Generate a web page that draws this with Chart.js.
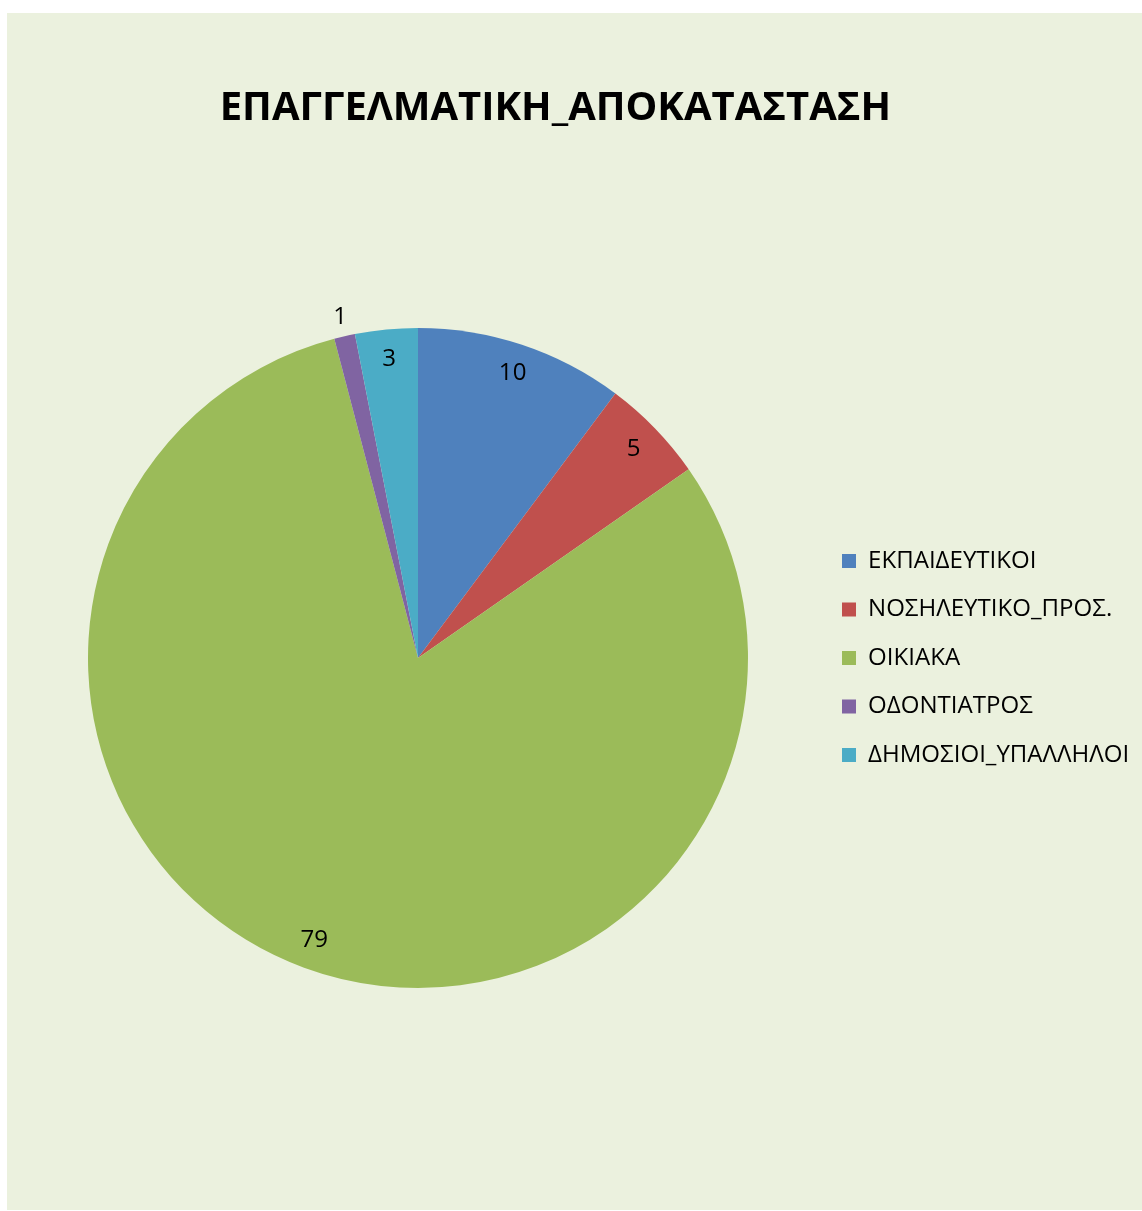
<!DOCTYPE html>
<html>
<head>
<meta charset="utf-8">
<script src="https://cdn.jsdelivr.net/npm/chart.js@4/dist/chart.umd.min.js"></script>
<style>
html,body{margin:0;padding:0;background:#ffffff;}
#panel{position:absolute;left:7px;top:13px;width:1135px;height:1197px;background:#EBF1DE;}
canvas{display:block;}
</style>
</head>
<body>
<div id="panel"><canvas id="c" width="1135" height="1197"></canvas></div>
<script>
// ---- data ----
const titleText = 'ΕΠΑΓΓΕΛΜΑΤΙΚΗ_ΑΠΟΚΑΤΑΣΤΑΣΗ';
const categories = ['ΕΚΠΑΙΔΕΥΤΙΚΟΙ', 'ΝΟΣΗΛΕΥΤΙΚΟ_ΠΡΟΣ.', 'ΟΙΚΙΑΚΑ', 'ΟΔΟΝΤΙΑΤΡΟΣ', 'ΔΗΜΟΣΙΟΙ_ΥΠΑΛΛΗΛΟΙ'];
const values = [10, 5, 79, 1, 3];
const colors = ['#4F81BD', '#C0504D', '#9BBB59', '#8064A2', '#4BACC6'];

// ---- styling / layout ----
const FAMILY = '"Open Sans", "Noto Sans", "DejaVu Sans", sans-serif';
const W = 1135, H = 1197;
const measureCtx = document.createElement('canvas').getContext('2d');
function inkWidth(text, font) {
  measureCtx.font = font;
  const m = measureCtx.measureText(text);
  return m.actualBoundingBoxLeft + m.actualBoundingBoxRight;
}
function advWidth(text, font) {
  measureCtx.font = font;
  return measureCtx.measureText(text).width;
}
// fit font sizes to the reference text widths
const TS = 100 * 665 / inkWidth(titleText, `bold 100px ${FAMILY}`);
const LS = 100 * 259 / inkWidth('ΔΗΜΟΣΙΟΙ_ΥΠΑΛΛΗΛΟΙ', `100px ${FAMILY}`);

const pieCX = 411, pieCY = 645, pieR = 330;
const legendBoxX = 835;
const rowStep = 48.5;
const legPad = rowStep - LS;
const padLeft = 2 * pieCX - legendBoxX + legPad;
let maxText = 0;
categories.forEach(c => { maxText = Math.max(maxText, advWidth(c, `${LS}px ${FAMILY}`)); });
const padRight = Math.max(0, W - (legendBoxX + 14 + LS / 2 + maxText) - 10);
const padTop = 10;
const areaTop = pieCY - pieR;
const padBottom = H - (pieCY + pieR);
const tlh = TS * 1.2;
const titlePadTop = 95.5 - padTop - tlh / 2;
const titlePadBottom = areaTop - padTop - titlePadTop - tlh;
const titleCenterX = 548.4;

const titleShift = {
  id: 'titleShift',
  afterLayout(chart) {
    const t = chart.titleBlock;
    if (!t) return;
    const d = titleCenterX - (t.left + t.right) / 2;
    t.left += d; t.right += d;
  }
};

const sliceLabels = {
  id: 'sliceLabels',
  afterDatasetsDraw(chart) {
    const ctx = chart.ctx;
    const meta = chart.getDatasetMeta(0);
    ctx.save();
    ctx.font = `${LS}px ${FAMILY}`;
    ctx.fillStyle = '#000000';
    ctx.textAlign = 'center';
    ctx.textBaseline = 'middle';
    meta.data.forEach((arc, i) => {
      const p = arc.getProps(['x', 'y', 'startAngle', 'endAngle', 'outerRadius'], true);
      const mid = (p.startAngle + p.endAngle) / 2;
      const span = p.endAngle - p.startAngle;
      const r = span < 0.12 ? p.outerRadius + 20 : p.outerRadius * 0.91;
      ctx.fillText(String(values[i]), p.x + Math.cos(mid) * r, p.y + Math.sin(mid) * r);
    });
    ctx.restore();
  }
};

new Chart(document.getElementById('c'), {
  type: 'pie',
  data: {
    labels: categories,
    datasets: [{
      data: values,
      backgroundColor: colors,
      borderWidth: 0,
      borderColor: colors
    }]
  },
  options: {
    responsive: false,
    animation: false,
    devicePixelRatio: 1,
    layout: { padding: { left: padLeft, right: padRight, top: padTop, bottom: padBottom } },
    plugins: {
      title: {
        display: true,
        text: titleText,
        color: '#000000',
        font: { family: FAMILY, size: TS, weight: 'bold' },
        padding: { top: titlePadTop, bottom: titlePadBottom }
      },
      legend: {
        display: true,
        position: 'right',
        fullSize: false,
        labels: {
          color: '#000000',
          font: { family: FAMILY, size: LS },
          boxWidth: 14,
          boxHeight: 14,
          padding: legPad
        }
      },
      tooltip: { enabled: false }
    }
  },
  plugins: [titleShift, sliceLabels]
});
</script>
</body>
</html>
